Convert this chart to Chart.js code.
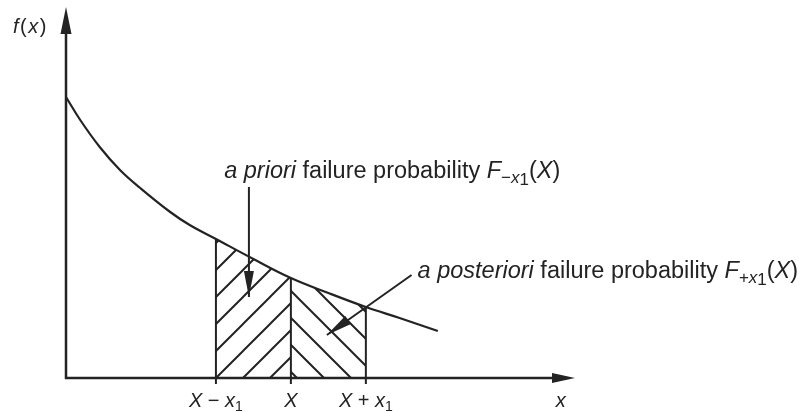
<!DOCTYPE html>
<html>
<head>
<meta charset="utf-8">
<script src="https://cdn.jsdelivr.net/npm/chart.js@4/dist/chart.umd.min.js"></script>
<style>
  html, body { margin: 0; padding: 0; background: #ffffff; }
  #wrap { width: 801px; height: 412px; }
</style>
</head>
<body>
<div id="wrap"><canvas id="c" width="801" height="412"></canvas></div>
<script>
// Density f(x), sampled along the decaying curve
const curveX = [0, 0.19, 0.45, 0.72, 0.99, 1.39, 1.65, 2, 2.5, 3, 3.5, 4, 4.45, 4.96];
const curveY = [2.81, 2.58, 2.31, 2.08, 1.90, 1.66, 1.53, 1.39, 1.19, 1.00, 0.85, 0.71, 0.60, 0.47];

// Interval bounds on the x axis: X - x1, X, X + x1
const boundX = [2, 3, 4];
const boundLabels = [
  [{ t: 'X', it: true }, { t: ' \u2212 ' }, { t: 'x', it: true }, { t: '1', sub: true }],
  [{ t: 'X', it: true }],
  [{ t: 'X', it: true }, { t: ' + ' }, { t: 'x', it: true }, { t: '1', sub: true }]
];

const INK = '#232323';
const FAM = '"Liberation Sans", Arial, Helvetica, sans-serif';

function pts(lo, hi) {
  const out = [];
  curveX.forEach((x, i) => { if (x >= lo && x <= hi) out.push({ x: x, y: curveY[i] }); });
  return out;
}
function curveAt(x) {
  return curveY[curveX.indexOf(x)];
}

// Diagonal hatch fills
function hatch(dir) {
  const s = 27;
  const c = document.createElement('canvas');
  c.width = s; c.height = s;
  const g = c.getContext('2d');
  g.strokeStyle = INK;
  g.lineWidth = 2;
  g.lineCap = 'square';
  g.beginPath();
  if (dir === '/') {
    g.moveTo(0, s); g.lineTo(s, 0);
    g.moveTo(-2, 2); g.lineTo(2, -2);
    g.moveTo(s - 2, s + 2); g.lineTo(s + 2, s - 2);
  } else {
    g.moveTo(0, 0); g.lineTo(s, s);
    g.moveTo(-2, s - 2); g.lineTo(2, s + 2);
    g.moveTo(s - 2, -2); g.lineTo(s + 2, 2);
  }
  g.stroke();
  return document.getElementById('c').getContext('2d').createPattern(c, 'repeat');
}

// Annotation arrows, in data coordinates
const arrows = [
  { from: [2.44, 1.91], to: [2.44, 0.81] },
  { from: [4.61, 1.03], to: [3.48, 0.43] }
];

// Annotation texts, anchored by their left end on the baseline
const notes = [
  { at: [2.11, 2.00], runs: [
    { t: 'a priori', it: true }, { t: ' failure probability ' }, { t: 'F', it: true },
    { t: '\u2212', sub: true }, { t: 'x', it: true, sub: true }, { t: '1', sub: true, lower: 2 },
    { t: '(' }, { t: 'X', it: true }, { t: ')' }
  ] },
  { at: [4.69, 1.00], runs: [
    { t: 'a posteriori', it: true }, { t: ' failure probability ' }, { t: 'F', it: true },
    { t: '+', sub: true }, { t: 'x', it: true, sub: true }, { t: '1', sub: true, lower: 2 },
    { t: '(' }, { t: 'X', it: true }, { t: ')' }
  ] }
];

function fontFor(r, size) {
  const sz = r.sub ? Math.round(size * 0.72) : size;
  return (r.it ? 'italic ' : '') + sz + 'px ' + FAM;
}
function runsWidth(ctx, runs, size) {
  let w = 0;
  runs.forEach(r => { ctx.font = fontFor(r, size); w += ctx.measureText(r.t).width; });
  return w;
}
function drawRuns(ctx, runs, x, y, size) {
  runs.forEach(r => {
    ctx.font = fontFor(r, size);
    const dy = r.sub ? Math.round(size * 0.2) + (r.lower || 0) : 0;
    ctx.fillText(r.t, x, y + dy);
    x += ctx.measureText(r.t).width;
  });
}
function arrowHead(ctx, x1, y1, x2, y2, len, half) {
  const a = Math.atan2(y2 - y1, x2 - x1);
  const bx = x2 - Math.cos(a) * len, by = y2 - Math.sin(a) * len;
  ctx.beginPath();
  ctx.moveTo(x2, y2);
  ctx.lineTo(bx + Math.sin(a) * half, by - Math.cos(a) * half);
  ctx.lineTo(bx - Math.sin(a) * half, by + Math.cos(a) * half);
  ctx.closePath();
  ctx.fill();
}

const decor = {
  id: 'decor',
  afterDatasetsDraw(chart) {
    const ctx = chart.ctx;
    const xs = chart.scales.x, ys = chart.scales.y;
    const ca = chart.chartArea;
    const x0 = xs.getPixelForValue(0), y0 = ys.getPixelForValue(0);
    ctx.save();
    ctx.strokeStyle = INK;
    ctx.fillStyle = INK;
    ctx.lineCap = 'butt';

    // axes with arrowheads
    ctx.lineWidth = 2.5;
    ctx.beginPath();
    ctx.moveTo(x0, y0 + 1); ctx.lineTo(x0, ca.top + 20);
    ctx.moveTo(x0 - 1, y0); ctx.lineTo(ca.right - 18, y0);
    ctx.stroke();
    arrowHead(ctx, x0, y0, x0, ca.top, 27, 5.5);
    arrowHead(ctx, x0, y0, ca.right, y0, 23, 5);

    // tick marks under the interval bounds
    ctx.lineWidth = 2;
    boundX.forEach(b => {
      const px = xs.getPixelForValue(b);
      ctx.beginPath(); ctx.moveTo(px, y0); ctx.lineTo(px, y0 + 6); ctx.stroke();
    });

    // annotation arrows
    ctx.lineWidth = 2;
    arrows.forEach(a => {
      const fx = xs.getPixelForValue(a.from[0]), fy = ys.getPixelForValue(a.from[1]);
      const tx = xs.getPixelForValue(a.to[0]), ty = ys.getPixelForValue(a.to[1]);
      ctx.beginPath(); ctx.moveTo(fx, fy); ctx.lineTo(tx, ty); ctx.stroke();
      arrowHead(ctx, fx, fy, tx, ty, 26, 5);
    });

    // tick labels
    ctx.textBaseline = 'alphabetic';
    ctx.textAlign = 'left';
    const tSize = 20;
    boundX.forEach((b, i) => {
      const w = runsWidth(ctx, boundLabels[i], tSize);
      drawRuns(ctx, boundLabels[i], xs.getPixelForValue(b) - w / 2, y0 + 29, tSize);
    });
    const xl = [{ t: 'x', it: true }];
    drawRuns(ctx, xl, xs.getPixelForValue(6.6) - runsWidth(ctx, xl, tSize) / 2, y0 + 29, tSize);

    // y axis title f(x)
    const fx = [{ t: 'f', it: true }, { t: '(' }, { t: 'x', it: true }, { t: ')' }];
    let px = 13;
    fx.forEach(r => {
      ctx.font = fontFor(r, 20);
      ctx.fillText(r.t, px, 33);
      px += ctx.measureText(r.t).width + 1.5;
    });

    // annotation texts
    notes.forEach(n => {
      drawRuns(ctx, n.runs, xs.getPixelForValue(n.at[0]), ys.getPixelForValue(n.at[1]), 23.5);
    });
    ctx.restore();
  }
};

const datasets = [
  {
    data: pts(boundX[0], boundX[1]),
    fill: 'origin', backgroundColor: hatch('/'),
    borderWidth: 0, pointRadius: 0, tension: 0.4
  },
  {
    data: pts(boundX[1], boundX[2]),
    fill: 'origin', backgroundColor: hatch('\\'),
    borderWidth: 0, pointRadius: 0, tension: 0.4
  },
  {
    data: curveX.map((x, i) => ({ x: x, y: curveY[i] })),
    borderColor: INK, borderWidth: 2.2, pointRadius: 0,
    tension: 0.4, fill: false, clip: false
  }
].concat(boundX.map(b => ({
  data: [{ x: b, y: 0 }, { x: b, y: curveAt(b) }],
  borderColor: INK, borderWidth: 2, pointRadius: 0, fill: false
})));

new Chart(document.getElementById('c'), {
  type: 'line',
  data: { datasets: datasets },
  options: {
    responsive: false,
    animation: false,
    events: [],
    layout: { padding: { left: 66, right: 226, top: 7, bottom: 34 } },
    scales: {
      x: { type: 'linear', min: 0, max: 6.79, display: false },
      y: { type: 'linear', min: 0, max: 3.71, display: false }
    },
    plugins: { legend: { display: false }, tooltip: { enabled: false } }
  },
  plugins: [decor]
});
</script>
</body>
</html>
